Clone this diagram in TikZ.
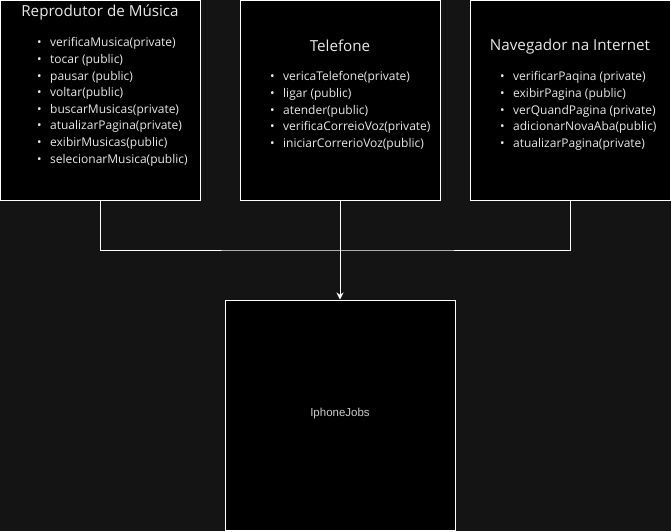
\documentclass[tikz,border=0pt]{standalone}
\usepackage{fontspec}
\setmainfont{Open Sans}
\newfontfamily\arialfont{Liberation Sans}
\usepackage{tikz}
\usetikzlibrary{arrows,arrows.meta,positioning,shapes,calc}
\definecolor{fundo}{HTML}{141414}
\definecolor{texto}{HTML}{E8E8E8}
\newcommand{\itm}[1]{\makebox[13pt][l]{\textbullet}#1\\}

\begin{document}
\begin{tikzpicture}[x = 1pt, y = -1pt,
  caixa/.style = {draw = white, fill = black, line width = 1pt, minimum width = 200pt, minimum height = 200pt, inner sep = 0pt},
  titulo/.style = {text = texto, font = \fontsize{15.2}{18}\selectfont, inner sep = 0pt},
  lista/.style = {text = texto, font = \fontsize{12}{16.6}\selectfont, align = left, anchor = north west, inner sep = 0pt}]
  \fill[fundo] (0,0) rectangle (671,531);
  \useasboundingbox (0,0) rectangle (671,531);
  \node[caixa] (musica) at (100.5,100) {};
  \node[caixa] (telefone) at (340,100) {};
  \node[caixa] (navegador) at (570,100) {};
  \node[caixa, minimum width = 230pt, minimum height = 230pt] (iphone) at (340,415) {};
  \coordinate (juncao) at (340,250);
  \draw[white, line width = 1pt] (musica.south) |- (juncao) -| (navegador.south);
  \draw[white, line width = 1pt, -{Stealth[length = 7pt, width = 7pt]}] (telefone.south) -- (iphone.north);
  \node[titulo] at (100,12) {Reprodutor de Música};
  \node[lista] at (37,37.5) {\itm{verificaMusica(private)}\itm{tocar (public)}\itm{pausar (public)}\itm{voltar(public)}\itm{buscarMusicas(private)}\itm{atualizarPagina(private)}\itm{exibirMusicas(public)}\itm{selecionarMusica(public)}};
  \node[titulo] at (340,46) {Telefone};
  \node[lista] at (270,71.5) {\itm{vericaTelefone(private)}\itm{ligar (public)}\itm{atender(public)}\itm{verificaCorreioVoz(private)}\itm{iniciarCorrerioVoz(public)}};
  \node[titulo] at (570,47) {Navegador na Internet};
  \node[lista] at (500,71.5) {\itm{verificarPaqina (private)}\itm{exibirPagina (public)}\itm{verQuandPagina (private)}\itm{adicionarNovaAba(public)}\itm{atualizarPagina(private)}};
  \node[text = gray!40, font = \arialfont\fontsize{11.5}{13}\selectfont] at (340,414) {IphoneJobs};
\end{tikzpicture}
\end{document}
